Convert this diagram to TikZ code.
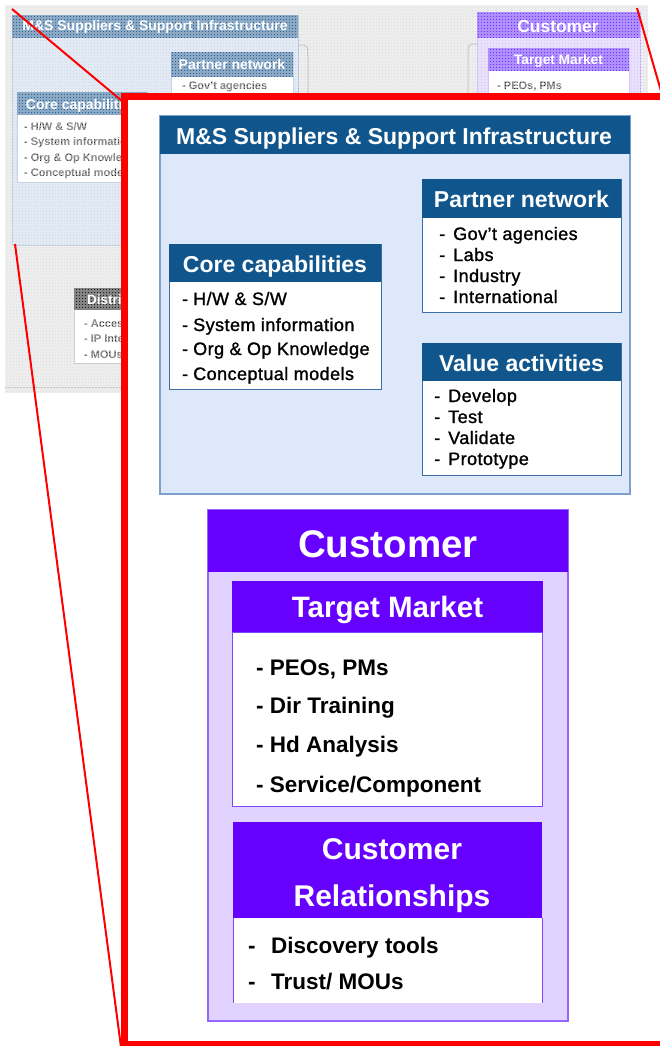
\documentclass[tikz,border=0pt]{standalone}
\usepackage{fontspec}
\setmainfont{Liberation Sans}
\newfontfamily\itemfam[LetterSpace=2.5,FakeBold=1.2]{Liberation Sans}
\newcommand\fsz[1]{\fontsize{#1}{#1}\selectfont}
\definecolor{msblue}{RGB}{16,86,140}
\definecolor{msfill}{RGB}{221,232,250}
\definecolor{msborder}{RGB}{125,160,205}
\definecolor{boxborder}{RGB}{60,110,165}
\definecolor{violetA}{RGB}{102,0,255}
\definecolor{lav}{RGB}{226,210,255}
\definecolor{lavborder}{RGB}{150,100,255}
\definecolor{whiteborder}{RGB}{125,70,255}
\definecolor{redz}{RGB}{255,0,0}
\definecolor{shotgray}{RGB}{224,224,224}
\definecolor{smblue}{RGB}{45,100,150}
\definecolor{smfill}{RGB}{205,218,236}
\definecolor{smborder}{RGB}{150,175,205}
\definecolor{smviolet}{RGB}{110,50,255}
\definecolor{smlav}{RGB}{215,200,250}
\definecolor{smdark}{RGB}{30,30,30}
\definecolor{smtext}{RGB}{45,45,45}
\tikzset{
  box/.style={anchor=north west, inner sep=0pt, outer sep=0pt},
  hdrtext/.style={anchor=base, text=white, inner sep=0pt},
  itemtext/.style={anchor=base west, inner sep=0pt, font=\itemfam\fsz{18}},
  citemtext/.style={anchor=base west, inner sep=0pt, font=\fsz{22.5}\bfseries},
  smitem/.style={anchor=base west, inner sep=0pt, text=smtext, font=\fsz{11}\bfseries},
  zoomline/.style={draw=redz, line width=2pt},
}
\begin{document}
\begin{tikzpicture}[x=1pt,y=-1pt]
\useasboundingbox (0,0) rectangle (660,1046);
% ---------- screenshot in the background ----------
\node[box, fill=shotgray, minimum width=643pt, minimum height=388pt] (shot) at (5,5) {};
% M&S small
\node[box, fill=smfill, draw=smborder, minimum width=286pt, minimum height=230pt] (smms) at (12,15) {};
\node[box, fill=smblue, minimum width=286pt, minimum height=23pt] (smmsh) at (12,15) {};
\node[hdrtext, font=\fsz{14}\bfseries] (smmst) at (155,31) {M\&S Suppliers \& Support Infrastructure};
% braces
\draw[gray!75, line width=1pt] (298,45) .. controls (308,45) .. (308,58) -- (308,230);
\draw[gray!75, line width=1pt] (477,44) .. controls (468,44) .. (468,57) -- (468,230);
% partner small
\node[box, fill=white, draw=smborder, minimum width=122pt, minimum height=100pt] (smpn) at (171,52) {};
\node[box, fill=smblue, minimum width=122pt, minimum height=25pt] (smpnh) at (171,52) {};
\node[hdrtext, font=\fsz{14}\bfseries] (smpnt) at (232,70) {Partner network};
\node[smitem] (smpn1) at (182,90) {- Gov’t agencies};
% core small
\node[box, fill=white, draw=smborder, minimum width=130pt, minimum height=90pt] (smcc) at (17,92) {};
\node[box, fill=smblue, minimum width=130pt, minimum height=23pt] (smcch) at (17,92) {};
\node[hdrtext, font=\fsz{14}\bfseries] (smcct) at (82,110) {Core capabilities};
\node[smitem] (smcc1) at (24,131) {- H/W \& S/W};
\node[smitem] (smcc2) at (24,146) {- System information};
\node[smitem] (smcc3) at (24,161) {- Org \& Op Knowledge};
\node[smitem] (smcc4) at (24,176) {- Conceptual models};
% distribution small
\node[box, fill=white, draw=gray!70, line width=1pt, minimum width=150pt, minimum height=75pt] (smdi) at (74,288) {};
\node[box, fill=smdark, minimum width=150pt, minimum height=22pt] (smdih) at (74,288) {};
\node[anchor=base west, inner sep=0pt, text=white, font=\fsz{13.5}\bfseries] (smdit) at (87,304) {Distri};
\node[smitem] (smdi1) at (84,327) {- Acces};
\node[smitem] (smdi2) at (84,342) {- IP Inte};
\node[smitem] (smdi3) at (84,358) {- MOUs};
% customer small
\node[box, fill=smlav, draw=lavborder!70, minimum width=163pt, minimum height=300pt] (smcu) at (477,12) {};
\node[box, fill=smviolet, minimum width=163pt, minimum height=26pt] (smcuh) at (477,12) {};
\node[hdrtext, font=\fsz{17.4}\bfseries] (smcut) at (558,33) {Customer};
\node[box, fill=white, draw=lavborder!70, minimum width=141pt, minimum height=200pt] (smtm) at (488,48) {};
\node[box, fill=smviolet, minimum width=141pt, minimum height=23pt] (smtmh) at (488,48) {};
\node[hdrtext, font=\fsz{13.7}\bfseries] (smtmt) at (558.5,65) {Target Market};
\node[smitem] (smtm1) at (497,90) {- PEOs, PMs};
% checker overlay
\draw[white, line width=1.1pt, opacity=0.45, step=3pt] (5,5) grid (648,393);
\draw[gray!45, line width=0.6pt, dash pattern=on 2pt off 1pt] (5,387) -- (650,387);
% ---------- zoom lines ----------
\coordinate (srcTL) at (12,9);
\coordinate (srcTR) at (637,8);
\coordinate (srcBL) at (15,244);
\coordinate (frTL) at (122,101);
\coordinate (frTR) at (663,98);
\coordinate (frBL) at (121,1047);
\draw[zoomline] (srcTL) -- (frTL);
\draw[zoomline] (srcTR) -- (frTR);
\draw[zoomline] (srcBL) -- (frBL);
% ---------- frame ----------
\node[box, draw=redz, fill=white, line width=7pt, minimum width=539pt, minimum height=948pt] (frame) at (124.5,96.5) {};
% ---------- M&S enlarged ----------
\node[box, fill=msfill, draw=msborder, line width=1.2pt, minimum width=470pt, minimum height=378pt] (ms) at (160,116) {};
\node[box, fill=msblue, minimum width=470pt, minimum height=38pt] (msh) at (160,116) {};
\node[hdrtext, font=\fsz{23}\bfseries] (mst) at (394,144) {M\&S Suppliers \& Support Infrastructure};
% partner
\node[box, fill=white, draw=boxborder, line width=1pt, minimum width=199pt, minimum height=133pt] (pn) at (422,179) {};
\node[box, fill=msblue, minimum width=199pt, minimum height=39pt] (pnh) at (422,179) {};
\node[hdrtext, font=\fsz{23}\bfseries] (pnt) at (521.5,207) {Partner network};
\node[itemtext] (pn1) at (439,240) {\makebox[14pt][l]{-}Gov’t agencies};
\node[itemtext] (pn2) at (439,261) {\makebox[14pt][l]{-}Labs};
\node[itemtext] (pn3) at (439,282) {\makebox[14pt][l]{-}Industry};
\node[itemtext] (pn4) at (439,303) {\makebox[14pt][l]{-}International};
% core
\node[box, fill=white, draw=boxborder, line width=1pt, minimum width=212pt, minimum height=145pt] (cc) at (169,244) {};
\node[box, fill=msblue, minimum width=212pt, minimum height=38pt] (cch) at (169,244) {};
\node[hdrtext, font=\fsz{23}\bfseries] (cct) at (275,272) {Core capabilities};
\node[itemtext] (cc1) at (182,305) {\makebox[11pt][l]{-}H/W \& S/W};
\node[itemtext] (cc2) at (182,331) {\makebox[11pt][l]{-}System information};
\node[itemtext] (cc3) at (182,355) {\makebox[11pt][l]{-}Org \& Op Knowledge};
\node[itemtext] (cc4) at (182,380) {\makebox[11pt][l]{-}Conceptual models};
% value
\node[box, fill=white, draw=boxborder, line width=1pt, minimum width=199pt, minimum height=132pt] (va) at (422,343) {};
\node[box, fill=msblue, minimum width=199pt, minimum height=38pt] (vah) at (422,343) {};
\node[hdrtext, font=\fsz{23}\bfseries] (vat) at (521.5,371) {Value activities};
\node[itemtext] (va1) at (434,402) {\makebox[14pt][l]{-}Develop};
\node[itemtext] (va2) at (434,423) {\makebox[14pt][l]{-}Test};
\node[itemtext] (va3) at (434,444) {\makebox[14pt][l]{-}Validate};
\node[itemtext] (va4) at (434,465) {\makebox[14pt][l]{-}Prototype};
% ---------- customer enlarged ----------
\node[box, fill=lav, draw=lavborder, line width=1.2pt, minimum width=360pt, minimum height=511pt] (cu) at (208,510) {};
\node[box, fill=violetA, minimum width=360pt, minimum height=62pt] (cuh) at (208,510) {};
\node[hdrtext, font=\fsz{38.5}\bfseries] (cut) at (388,557) {Customer};
% target market
\node[box, fill=white, draw=whiteborder, line width=1pt, minimum width=310pt, minimum height=174pt] (tm) at (232,632) {};
\node[box, fill=violetA, minimum width=311pt, minimum height=51pt] (tmh) at (232,581) {};
\node[hdrtext, font=\fsz{29.5}\bfseries] (tmt) at (387.5,617) {Target Market};
\node[citemtext] (tm1) at (256,675) {- PEOs, PMs};
\node[citemtext] (tm2) at (256,713) {- Dir Training};
\node[citemtext] (tm3) at (256,752) {- Hd Analysis};
\node[citemtext] (tm4) at (256,792) {- Service/Component};
% customer relationships
\node[box, fill=white, minimum width=309pt, minimum height=85pt] (cr) at (233,918) {};
\draw[whiteborder, line width=1pt] (cr.north west) -- (cr.south west) (cr.north east) -- (cr.south east);
\node[box, fill=violetA, minimum width=309pt, minimum height=96pt] (crh) at (233,822) {};
\node[hdrtext, font=\fsz{30}\bfseries] (crt1) at (392,859) {Customer};
\node[hdrtext, font=\fsz{30}\bfseries] (crt2) at (392,906) {Relationships};
\node[citemtext] (cr1) at (248,953) {\makebox[23pt][l]{-}Discovery tools};
\node[citemtext] (cr2) at (248,989) {\makebox[23pt][l]{-}Trust/ MOUs};
\end{tikzpicture}
\end{document}
